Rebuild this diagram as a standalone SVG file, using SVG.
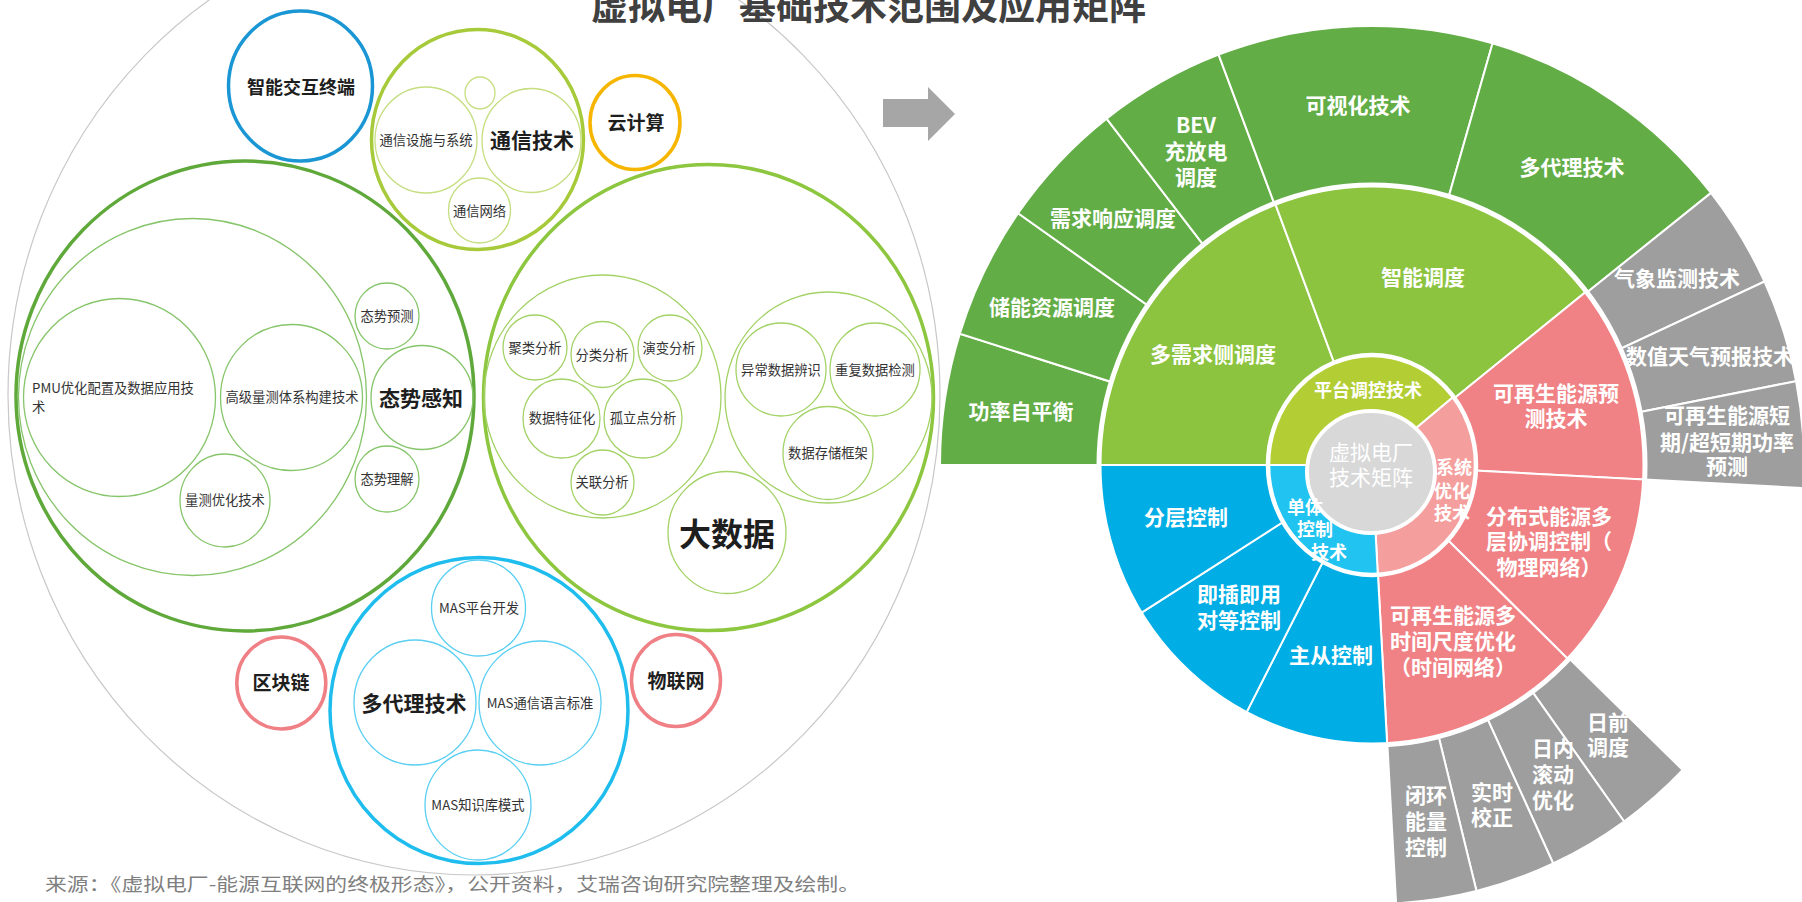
<svg xmlns="http://www.w3.org/2000/svg" width="1802" height="902" viewBox="0 0 1802 902">
<style>
text{font-family:"Noto Sans CJK SC","Noto Sans",sans-serif;text-anchor:middle}
.s{font-size:13.3px;fill:#333}
.b{font-weight:700;fill:#1e1e1e}
.w{font-weight:700;fill:#fff;font-size:21px}
.w1{font-weight:700;fill:#fff;font-size:18px}
.c{fill:none;stroke-width:3.5}
.i{fill:none;stroke-width:1.3}
.g1{stroke:#5fa83a}.g1i{stroke:#86c56a}
.g2{stroke:#8dc63f}.g2i{stroke:#a3d266}
.g3{stroke:#a6ca3a}.g3i{stroke:#c5de80}
.bl{stroke:#1ebdee}.bli{stroke:#5acff2}
.seg{stroke:#fff;stroke-width:2}
.o{fill:#63ad46}.m{fill:#8cc43f}.n{fill:#b3ce34}
.p{fill:#f08184}.pl{fill:#f49f9e}
.u{fill:#00ade4}.ul{fill:#21c3f0}
.gr{fill:#9e9e9e}
</style>
<rect width="1802" height="902" fill="#fff"/>
<ellipse cx="474" cy="395" rx="466" ry="480" fill="none" stroke="#c8c8c8" stroke-width="1.2"/>
<text x="591" y="20" style="font-size:37px;font-weight:700;fill:#404040;text-anchor:start">虚拟电厂基础技术范围及应用矩阵</text>

<g id="zhineng">
<ellipse cx="300.5" cy="86" rx="72" ry="75" class="c" stroke="#1b96d4"/>
<text x="301" y="94" class="b" font-size="18">智能交互终端</text>
</g>

<g id="tongxin">
<ellipse cx="477.5" cy="139.5" rx="106" ry="110" class="c g3"/>
<ellipse cx="426" cy="140" rx="51" ry="53" class="i g3i"/>
<ellipse cx="531.5" cy="140.5" rx="49.5" ry="52" class="i g3i"/>
<ellipse cx="480" cy="93" rx="15" ry="16" class="i g3i"/>
<ellipse cx="479.5" cy="210.5" rx="31" ry="32.5" class="i g3i"/>
<text x="426" y="145" class="s">通信设施与系统</text>
<text x="532" y="148" class="b" font-size="21">通信技术</text>
<text x="479.5" y="216" class="s">通信网络</text>
</g>

<g id="yunjisuan">
<ellipse cx="635" cy="122.5" rx="45" ry="47" class="c" stroke="#f6b600"/>
<text x="636" y="130" class="b" font-size="19">云计算</text>
</g>

<g id="taishi">
<ellipse cx="245" cy="396" rx="229" ry="235" class="c g1"/>
<ellipse cx="192.5" cy="397" rx="174" ry="178.5" class="i g1i"/>
<ellipse cx="119.5" cy="397.5" rx="96" ry="99" class="i g1i"/>
<ellipse cx="291.5" cy="397.5" rx="71" ry="73" class="i g1i"/>
<ellipse cx="225" cy="500.5" rx="45" ry="46.5" class="i g1i"/>
<ellipse cx="387" cy="316" rx="32" ry="33" class="i g1i"/>
<ellipse cx="422" cy="397.5" rx="51" ry="52" class="i g1i"/>
<ellipse cx="387" cy="479" rx="32" ry="33" class="i g1i"/>
<text x="32" y="393" class="s" style="text-anchor:start">PMU优化配置及数据应用技</text>
<text x="32" y="412" class="s" style="text-anchor:start">术</text>
<text x="292" y="402" class="s">高级量测体系构建技术</text>
<text x="225" y="505" class="s">量测优化技术</text>
<text x="387" y="321" class="s">态势预测</text>
<text x="421" y="406" class="b" font-size="21">态势感知</text>
<text x="387" y="484" class="s">态势理解</text>
</g>

<g id="dashuju">
<ellipse cx="708.5" cy="397.5" rx="225" ry="233" class="c g2"/>
<ellipse cx="602.5" cy="396.5" rx="118.5" ry="121.5" class="i g2i"/>
<ellipse cx="535" cy="347.5" rx="32" ry="32.5" class="i g2i"/>
<ellipse cx="602.5" cy="354.5" rx="31.5" ry="33" class="i g2i"/>
<ellipse cx="670" cy="348" rx="32" ry="33" class="i g2i"/>
<ellipse cx="561.5" cy="418.5" rx="38.5" ry="39.5" class="i g2i"/>
<ellipse cx="643" cy="418.5" rx="39" ry="39.5" class="i g2i"/>
<ellipse cx="602.5" cy="482.5" rx="31.5" ry="32.5" class="i g2i"/>
<ellipse cx="828.5" cy="397.5" rx="103.5" ry="105.5" class="i g2i"/>
<ellipse cx="781" cy="369.5" rx="45" ry="46.5" class="i g2i"/>
<ellipse cx="875" cy="369.5" rx="45" ry="46.5" class="i g2i"/>
<ellipse cx="828" cy="453" rx="45" ry="46.5" class="i g2i"/>
<ellipse cx="727" cy="532.5" rx="59" ry="61" class="i g2i"/>
<text x="535" y="353" class="s">聚类分析</text>
<text x="602" y="360" class="s">分类分析</text>
<text x="669" y="353" class="s">演变分析</text>
<text x="562" y="423" class="s">数据特征化</text>
<text x="643" y="423" class="s">孤立点分析</text>
<text x="602" y="487" class="s">关联分析</text>
<text x="781" y="375" class="s">异常数据辨识</text>
<text x="875" y="375" class="s">重复数据检测</text>
<text x="828" y="458" class="s">数据存储框架</text>
<text x="727" y="546" class="b" font-size="32">大数据</text>
</g>

<g id="duodaili">
<ellipse cx="479" cy="710.5" rx="149" ry="153" class="c bl"/>
<ellipse cx="478.5" cy="608" rx="47" ry="48" class="i bli"/>
<ellipse cx="415" cy="702.5" rx="61" ry="62.5" class="i bli"/>
<ellipse cx="540" cy="703" rx="61" ry="62" class="i bli"/>
<ellipse cx="478" cy="805" rx="53" ry="55" class="i bli"/>
<text x="479" y="613" class="s">MAS平台开发</text>
<text x="414" y="711" class="b" font-size="21">多代理技术</text>
<text x="540" y="708" class="s">MAS通信语言标准</text>
<text x="478" y="810" class="s">MAS知识库模式</text>
</g>

<g id="qukuailian">
<ellipse cx="281.3" cy="683" rx="44.5" ry="46" class="c" stroke="#ef8085"/>
<text x="281" y="690" class="b" font-size="19">区块链</text>
</g>

<g id="wulianwang">
<ellipse cx="676" cy="680.5" rx="44.5" ry="46" class="c" stroke="#ef8085"/>
<text x="676" y="688" class="b" font-size="19">物联网</text>
</g>

<g id="connectors">
<polygon points="883,99 928,99 928,87 955,114 928,141 928,127 883,127" fill="#a6a6a6"/>
</g>

<g id="ring3">
<g id="gonglv"><path class="o seg" d="M1372,465 L940,465 A432,439 0 0 1 959.8,333.7 Z"/></g>
<g id="chuneng"><path class="o seg" d="M1372,465 L959.8,333.7 A432,439 0 0 1 1018.1,213.2 Z"/></g>
<g id="xuqiu"><path class="o seg" d="M1372,465 L1018.1,213.2 A432,439 0 0 1 1106.6,118.6 Z"/></g>
<g id="bev"><path class="o seg" d="M1372,465 L1106.6,118.6 A432,439 0 0 1 1218.6,54.6 Z"/></g>
<g id="keshihua"><path class="o seg" d="M1372,465 L1218.6,54.6 A432,439 0 0 1 1492.5,43.4 Z"/></g>
<g id="duodaili2"><path class="o seg" d="M1372,465 L1492.5,43.4 A432,439 0 0 1 1711,192.9 Z"/></g>
<g id="qixiang"><path class="gr seg" d="M1372,465 L1711,192.9 A432,439 0 0 1 1764.5,281.5 Z"/></g>
<g id="shuzhi"><path class="gr seg" d="M1372,465 L1764.5,281.5 A432,439 0 0 1 1796.1,381.2 Z"/></g>
<g id="duanqi"><path class="gr seg" d="M1372,465 L1796.1,381.2 A432,439 0 0 1 1803.4,488 Z"/></g>
<g id="riqian"><path class="gr seg" d="M1372,465 L1682.7,770 A432,439 0 0 1 1624.1,821.5 Z"/></g>
<g id="rinei"><path class="gr seg" d="M1372,465 L1624.1,821.5 A432,439 0 0 1 1553.2,863.5 Z"/></g>
<g id="shishi"><path class="gr seg" d="M1372,465 L1553.2,863.5 A432,439 0 0 1 1476.5,891 Z"/></g>
<g id="bihuan"><path class="gr seg" d="M1372,465 L1476.5,891 A432,439 0 0 1 1396.1,903.3 Z"/></g>
</g>

<g id="ring2">
<g id="duoxuqiu"><path class="m seg" d="M1372,465 L1099,465 A273,280 0 0 1 1275.1,203.3 Z"/></g>
<g id="zhinengdiaodu"><path class="m seg" d="M1372,465 L1275.1,203.3 A273,280 0 0 1 1586.3,291.5 Z"/></g>
<g id="yuce"><path class="p seg" d="M1372,465 L1586.3,291.5 A273,280 0 0 1 1644.6,479.6 Z"/></g>
<g id="fenbushi"><path class="p seg" d="M1372,465 L1644.6,479.6 A273,280 0 0 1 1568.4,659.5 Z"/></g>
<g id="duoshijian"><path class="p seg" d="M1372,465 L1568.4,659.5 A273,280 0 0 1 1387.2,744.6 Z"/></g>
<g id="zhucong"><path class="u seg" d="M1372,465 L1387.2,744.6 A273,280 0 0 1 1246,713.4 Z"/></g>
<g id="jicha"><path class="u seg" d="M1372,465 L1246,713.4 A273,280 0 0 1 1140.5,613.4 Z"/></g>
<g id="fenceng"><path class="u seg" d="M1372,465 L1140.5,613.4 A273,280 0 0 1 1099,465 Z"/></g>
</g>
<ellipse cx="1372" cy="465" rx="273" ry="280" fill="none" stroke="#fff" stroke-width="5"/>

<g id="ring1">
<g id="pingtai"><path class="n seg" d="M1372,465 L1268,465 A104,110 0 0 1 1453.6,396.8 Z"/></g>
<g id="xitong"><path class="pl seg" d="M1372,465 L1453.6,396.8 A104,110 0 0 1 1377.8,574.8 Z"/></g>
<g id="danti"><path class="ul seg" d="M1372,465 L1377.8,574.8 A104,110 0 0 1 1268,465 Z"/></g>
</g>
<ellipse cx="1372" cy="465" rx="104" ry="110" fill="none" stroke="#fff" stroke-width="4.5"/>

<g id="center">
<ellipse cx="1371" cy="472" rx="64" ry="61" fill="#d8d8d8" stroke="#fff" stroke-width="4"/>
<text x="1371" y="460" style="font-size:21px;fill:#fff">虚拟电厂</text>
<text x="1371" y="485" style="font-size:21px;fill:#fff">技术矩阵</text>
</g>

<g id="labels">
<text x="1358" y="113" class="w">可视化技术</text>
<text x="1196" y="133" class="w">BEV</text>
<text x="1196" y="159" class="w">充放电</text>
<text x="1196" y="185" class="w">调度</text>
<text x="1572" y="175" class="w">多代理技术</text>
<text x="1113" y="226" class="w">需求响应调度</text>
<text x="1052" y="315" class="w">储能资源调度</text>
<text x="1021" y="419" class="w">功率自平衡</text>
<text x="1677" y="286" class="w">气象监测技术</text>
<text x="1710" y="364" class="w">数值天气预报技术</text>
<text x="1727" y="423" class="w">可再生能源短</text>
<text x="1727" y="450" class="w">期/超短期功率</text>
<text x="1727" y="474" class="w">预测</text>
<text x="1608" y="730" class="w">日前</text>
<text x="1608" y="755" class="w">调度</text>
<text x="1553" y="756" class="w">日内</text>
<text x="1553" y="782" class="w">滚动</text>
<text x="1553" y="808" class="w">优化</text>
<text x="1492" y="800" class="w">实时</text>
<text x="1492" y="825" class="w">校正</text>
<text x="1426" y="803" class="w">闭环</text>
<text x="1426" y="829" class="w">能量</text>
<text x="1426" y="855" class="w">控制</text>
<text x="1423" y="285" class="w">智能调度</text>
<text x="1213" y="362" class="w">多需求侧调度</text>
<text x="1556" y="401" class="w">可再生能源预</text>
<text x="1556" y="426" class="w">测技术</text>
<text x="1186" y="525" class="w">分层控制</text>
<text x="1239" y="602" class="w">即插即用</text>
<text x="1239" y="628" class="w">对等控制</text>
<text x="1331" y="663" class="w">主从控制</text>
<text x="1549" y="524" class="w">分布式能源多</text>
<text x="1549" y="549" class="w">层协调控制（</text>
<text x="1549" y="575" class="w">物理网络）</text>
<text x="1453" y="623" class="w">可再生能源多</text>
<text x="1453" y="649" class="w">时间尺度优化</text>
<text x="1453" y="675" class="w">（时间网络）</text>
<text x="1368" y="397" class="w1">平台调控技术</text>
<text x="1454" y="474" class="w1">系统</text>
<text x="1452" y="498" class="w1">优化</text>
<text x="1452" y="520" class="w1">技术</text>
<text x="1305" y="514" class="w1">单体</text>
<text x="1315" y="536" class="w1">控制</text>
<text x="1329" y="559" class="w1">技术</text>
</g>

<text x="45" y="891" textLength="815" lengthAdjust="spacingAndGlyphs" style="font-size:18px;fill:#7f7f7f;text-anchor:start">来源：《虚拟电厂-能源互联网的终极形态》，公开资料，艾瑞咨询研究院整理及绘制。</text>
</svg>
